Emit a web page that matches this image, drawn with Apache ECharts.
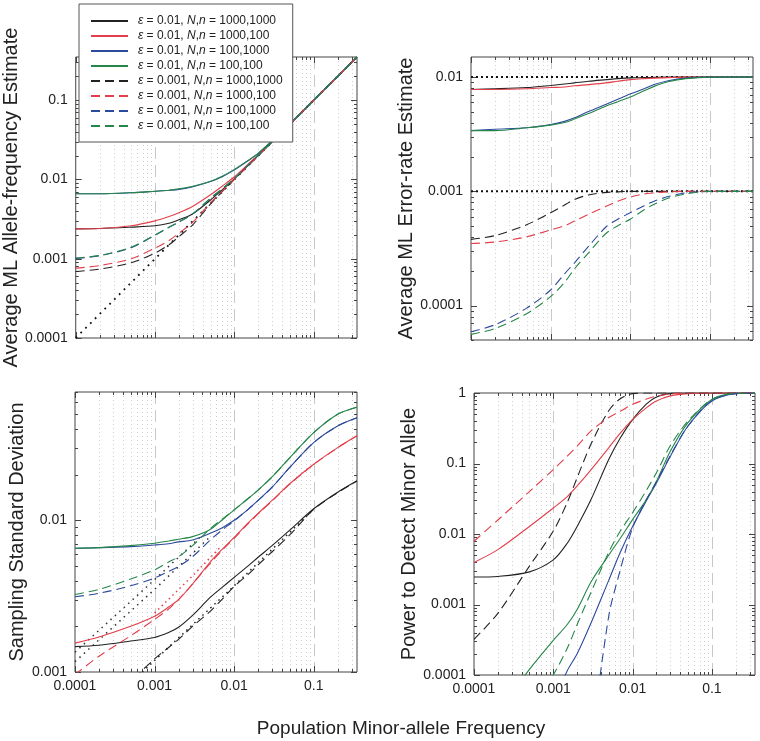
<!DOCTYPE html>
<html>
<head>
<meta charset="utf-8">
<script src="https://cdn.jsdelivr.net/npm/echarts@6/dist/echarts.min.js"></script>
<style>
html,body{margin:0;padding:0;background:#fff;}
#chart{width:760px;height:741px;}
</style>
</head>
<body>
<div id="chart"></div>
<script>
// ---------- DATA ----------
const X = [0.0001, 0.0002, 0.0005, 0.001, 0.0015, 0.002, 0.003, 0.005, 0.007, 0.01, 0.015, 0.02, 0.03, 0.05, 0.1, 0.2, 0.35];

const epsLabels = ['0.01', '0.01', '0.01', '0.01', '0.001', '0.001', '0.001', '0.001'];
const nnLabels = ['1000,1000', '1000,100', '100,1000', '100,100', '1000,1000', '1000,100', '100,1000', '100,100'];

const xTickLabels = ['0.0001', '0.001', '0.01', '0.1'];
const tlTickLabels = ['0.0001', '0.001', '0.01', '0.1'];
const trTickLabels = ['0.0001', '0.001', '0.01'];
const blTickLabels = ['0.001', '0.01'];
const brTickLabels = ['0.0001', '0.001', '0.01', '0.1', '1'];

const yTitles = ['Average ML Allele-frequency Estimate', 'Average ML Error-rate Estimate', 'Sampling Standard Deviation', 'Power to Detect Minor Allele'];
const xTitle = 'Population Minor-allele Frequency';

// Top-left: Average ML allele-frequency estimate
const tlS_black = [0.00238, 0.0024, 0.0025, 0.0026, 0.0028, 0.0031, 0.0037, 0.0055, 0.0074, 0.0102, 0.0152, 0.0201, 0.030, 0.050, 0.10, 0.20, 0.35];
const tlS_red   = [0.00238, 0.0024, 0.0026, 0.0030, 0.0034, 0.0038, 0.0046, 0.0064, 0.0082, 0.0108, 0.0157, 0.0205, 0.0302, 0.050, 0.10, 0.20, 0.35];
const tlS_blue  = [0.0066, 0.0066, 0.0068, 0.0071, 0.0073, 0.0075, 0.0081, 0.0094, 0.0108, 0.0132, 0.0173, 0.0213, 0.0308, 0.050, 0.10, 0.20, 0.35];
const tlS_green = [0.0066, 0.0066, 0.0068, 0.0071, 0.0073, 0.0076, 0.0082, 0.0095, 0.0110, 0.0134, 0.0175, 0.0215, 0.0310, 0.050, 0.10, 0.20, 0.35];
const tlD_black = [0.00069, 0.00074, 0.00089, 0.00118, 0.0015, 0.0019, 0.0027, 0.0049, 0.0070, 0.0100, 0.0150, 0.0200, 0.030, 0.050, 0.10, 0.20, 0.35];
const tlD_red   = [0.00076, 0.00082, 0.0010, 0.00136, 0.0017, 0.0021, 0.0029, 0.0051, 0.0071, 0.0101, 0.0150, 0.0200, 0.030, 0.050, 0.10, 0.20, 0.35];
const tlD_blue  = [0.00101, 0.00109, 0.00138, 0.00198, 0.0025, 0.0029, 0.0037, 0.0058, 0.0076, 0.0103, 0.0153, 0.0202, 0.030, 0.050, 0.10, 0.20, 0.35];
const tlD_green = [0.00102, 0.0011, 0.0014, 0.0020, 0.0025, 0.0029, 0.0037, 0.0058, 0.0076, 0.0103, 0.0153, 0.0202, 0.030, 0.050, 0.10, 0.20, 0.35];
const tlRefX = [0.0001, 0.35];
const tlRefY = [0.0001, 0.35];

// Top-right: Average ML error-rate estimate
const trS_black = [0.0078, 0.0079, 0.0081, 0.00845, 0.0087, 0.0089, 0.0092, 0.0095, 0.0097, 0.00985, 0.0099, 0.00995, 0.0100, 0.0100, 0.0100, 0.0100, 0.0100];
const trS_red   = [0.0078, 0.0078, 0.0079, 0.0081, 0.0082, 0.0084, 0.0086, 0.0089, 0.0092, 0.0095, 0.0097, 0.0098, 0.0099, 0.0100, 0.0100, 0.0100, 0.0100];
const trS_blue  = [0.0034, 0.0035, 0.0036, 0.00385, 0.0041, 0.0044, 0.0050, 0.0058, 0.0064, 0.0071, 0.0079, 0.0086, 0.0093, 0.0098, 0.0100, 0.0100, 0.0100];
const trS_green = [0.0034, 0.0034, 0.0036, 0.0038, 0.0040, 0.0043, 0.0048, 0.0056, 0.0061, 0.0067, 0.0076, 0.0083, 0.0091, 0.0097, 0.0100, 0.0100, 0.0100];
const trD_black = [0.00038, 0.00041, 0.00051, 0.00065, 0.00076, 0.00085, 0.00093, 0.00098, 0.00099, 0.0010, 0.0010, 0.0010, 0.0010, 0.0010, 0.0010, 0.0010, 0.0010];
const trD_red   = [0.00035, 0.00036, 0.00040, 0.00046, 0.00050, 0.00055, 0.00063, 0.00074, 0.00082, 0.00089, 0.00095, 0.00097, 0.00099, 0.0010, 0.0010, 0.0010, 0.0010];
const trD_blue  = [0.000059, 0.000068, 0.000095, 0.000137, 0.00019, 0.000237, 0.00033, 0.00049, 0.00057, 0.00065, 0.00075, 0.00082, 0.00090, 0.00097, 0.0010, 0.0010, 0.0010];
const trD_green = [0.000056, 0.000063, 0.000085, 0.00012, 0.00016, 0.00021, 0.00029, 0.00043, 0.00050, 0.00057, 0.00069, 0.00077, 0.00087, 0.00095, 0.0010, 0.0010, 0.0010];
const trRefLevels = [0.01, 0.001];

// Bottom-left: Sampling standard deviation
const blS_black = [0.00147, 0.0015, 0.0016, 0.00169, 0.00182, 0.00197, 0.00236, 0.0031, 0.0036, 0.0042, 0.0050, 0.0057, 0.0068, 0.0086, 0.0119, 0.0153, 0.0182];
const blS_red   = [0.00155, 0.0017, 0.0020, 0.00233, 0.00268, 0.0030, 0.0038, 0.0053, 0.0064, 0.0077, 0.0096, 0.0111, 0.0135, 0.0174, 0.0234, 0.0301, 0.0360];
const blS_blue  = [0.00653, 0.0066, 0.0067, 0.00687, 0.0070, 0.0072, 0.0074, 0.0082, 0.0089, 0.0100, 0.0118, 0.0135, 0.0165, 0.0223, 0.0325, 0.0418, 0.0473];
const blS_green = [0.00653, 0.0066, 0.0068, 0.00705, 0.0073, 0.0075, 0.0078, 0.0087, 0.0100, 0.0117, 0.0139, 0.0158, 0.0193, 0.0258, 0.0378, 0.0500, 0.0556];
const blD_black = [0.00028, 0.0004, 0.00085, 0.00122, 0.00145, 0.00164, 0.0020, 0.00251, 0.0030, 0.00366, 0.0044, 0.00508, 0.0062, 0.0080, 0.0118, 0.0152, 0.0181];
const blD_red   = [0.00096, 0.00127, 0.00173, 0.00222, 0.0026, 0.0030, 0.0038, 0.0052, 0.0063, 0.0076, 0.0095, 0.0110, 0.0134, 0.0173, 0.0233, 0.0300, 0.0360];
const blD_blue  = [0.00313, 0.0033, 0.0037, 0.00416, 0.0046, 0.00496, 0.00575, 0.0074, 0.0086, 0.0099, 0.0118, 0.0135, 0.0165, 0.0223, 0.0325, 0.0418, 0.0473];
const blD_green = [0.00324, 0.0035, 0.0041, 0.00471, 0.0053, 0.00575, 0.0068, 0.0088, 0.0101, 0.0117, 0.0139, 0.0158, 0.0193, 0.0258, 0.0378, 0.0500, 0.0556];
const blDotA_X = [0.0001, 0.001, 0.004];
const blDotA_Y = [0.00135, 0.00406, 0.0080];
const blDotB_X = [0.0001, 0.001, 0.005];
const blDotB_Y = [0.00117, 0.0035, 0.0078];
const blDotRed_X = [0.001, 0.003, 0.007];
const blDotRed_Y = [0.00245, 0.0043, 0.0068];
const blDotBlack_X = [0.0007, 0.01, 0.1];
const blDotBlack_Y = [0.0010, 0.0037, 0.0118];

// Bottom-right: Power to detect minor allele
const brS_black = [0.00245, 0.0025, 0.0029, 0.0043, 0.0074, 0.0128, 0.031, 0.114, 0.23, 0.42, 0.70, 0.88, 0.98, 1, 1, 1, 1];
const brS_red   = [0.00395, 0.0060, 0.0128, 0.0234, 0.034, 0.048, 0.082, 0.167, 0.27, 0.42, 0.62, 0.77, 0.91, 0.98, 1, 1, 1];
const brS_blue  = [null, null, 0.000008, 0.00004, 0.000115, 0.00020, 0.00055, 0.0022, 0.0055, 0.0128, 0.030, 0.053, 0.127, 0.34, 0.77, 0.98, 1];
const brS_green = [0.000015, 0.00003, 0.00012, 0.00031, 0.00052, 0.00085, 0.0021, 0.0050, 0.0087, 0.016, 0.031, 0.056, 0.15, 0.38, 0.81, 0.99, 1];
const brD_black = [0.00032, 0.00075, 0.0035, 0.011, 0.028, 0.063, 0.19, 0.56, 0.83, 0.98, 1, 1, 1, 1, 1, 1, 1];
const brD_red   = [0.0079, 0.0158, 0.040, 0.082, 0.127, 0.176, 0.29, 0.45, 0.55, 0.69, 0.82, 0.90, 0.97, 1, 1, 1, 1];
const brD_blue  = [null, null, null, null, null, null, 0.00001, 0.00068, 0.0031, 0.0122, 0.031, 0.055, 0.13, 0.34, 0.78, 0.98, 1];
const brD_green = [null, null, 0.00003, 0.0001, 0.00024, 0.00052, 0.0015, 0.0055, 0.011, 0.020, 0.042, 0.074, 0.18, 0.40, 0.81, 0.99, 1];

// ---------- STYLE / LAYOUT ----------
const FONT = '"Liberation Sans", Arial, sans-serif';
const COLORS = ['#222222', '#e23f4a', '#2c4a9c', '#25864a'];
const DASH = [9, 5];
const grids = [
  {left: 75, top: 57, width: 282, height: 281},
  {left: 471, top: 57, width: 282, height: 283},
  {left: 75, top: 392, width: 282, height: 280},
  {left: 474, top: 393, width: 281, height: 282}
];
const xRange = [0.0001, 0.35];
const yRanges = [[0.0001, 0.35], [0.00005, 0.015], [0.001, 0.07], [0.0001, 1]];
const yLabelSets = [tlTickLabels, trTickLabels, blTickLabels, brTickLabels];
const nameGaps = [48, 43, 48, 46];

const panelData = [
  [tlS_black, tlS_red, tlS_blue, tlS_green, tlD_black, tlD_red, tlD_blue, tlD_green],
  [trS_black, trS_red, trS_blue, trS_green, trD_black, trD_red, trD_blue, trD_green],
  [blS_black, blS_red, blS_blue, blS_green, blD_black, blD_red, blD_blue, blD_green],
  [brS_black, brS_red, brS_blue, brS_green, brD_black, brD_red, brD_blue, brD_green]
];

const seriesNames = epsLabels.map((e, i) => '\u03b5 = ' + e + ', N,n = ' + nnLabels[i]);

function labelFormatter(labels) {
  return function (v) {
    const s = labels.find(l => Math.abs(Math.log10(+l) - Math.log10(v)) < 1e-6);
    return s || '';
  };
}

function tickValues(min, max) {
  const out = [];
  for (let k = -6; k <= 1; k++) {
    for (let m = 1; m <= 9; m++) {
      const v = m * Math.pow(10, k);
      if (v >= min * 0.9999 && v <= max * 1.0001) out.push([v, m === 1 ? 1 : 0]);
    }
  }
  return out;
}

function xGridRender(params, api) {
  const cs = params.coordSys;
  let x = api.coord([api.value(0), api.value(1)])[0];
  x = Math.round(x) + 0.5;
  const major = api.value(2) === 1;
  const len = major ? 6 : 3;
  const top = cs.y, bot = cs.y + cs.height;
  const children = [];
  if (x > cs.x + 1.5 && x < cs.x + cs.width - 1.5) {
    children.push({type: 'line', shape: {x1: x, y1: top, x2: x, y2: bot},
      style: {stroke: major ? '#c8c8c8' : '#cfcfcf', lineWidth: 1, lineDash: major ? [12, 6] : [1, 3]}});
  }
  children.push({type: 'line', shape: {x1: x, y1: bot, x2: x, y2: bot - len}, style: {stroke: '#444', lineWidth: 1}});
  children.push({type: 'line', shape: {x1: x, y1: top, x2: x, y2: top + len}, style: {stroke: '#444', lineWidth: 1}});
  return {type: 'group', children};
}

function yTickRender(params, api) {
  const cs = params.coordSys;
  let y = api.coord([api.value(0), api.value(1)])[1];
  y = Math.round(y) + 0.5;
  const major = api.value(2) === 1;
  const len = major ? 6 : 3;
  const l = cs.x, r = cs.x + cs.width;
  return {type: 'group', children: [
    {type: 'line', shape: {x1: l, y1: y, x2: l + len, y2: y}, style: {stroke: '#444', lineWidth: 1}},
    {type: 'line', shape: {x1: r, y1: y, x2: r - len, y2: y}, style: {stroke: '#444', lineWidth: 1}}
  ]};
}

const xAxes = [], yAxes = [], series = [];
grids.forEach((g, gi) => {
  const bottomRow = gi >= 2;
  xAxes.push({
    type: 'log', logBase: 10, gridIndex: gi, min: xRange[0], max: xRange[1],
    axisLine: {show: false}, axisTick: {show: false}, splitLine: {show: false},
    axisLabel: {show: bottomRow, formatter: labelFormatter(xTickLabels), fontSize: 14, color: '#222', fontFamily: FONT, margin: 7}
  });
  yAxes.push({
    type: 'log', logBase: 10, gridIndex: gi, min: yRanges[gi][0], max: yRanges[gi][1],
    axisLine: {show: false}, axisTick: {show: false}, splitLine: {show: false},
    axisLabel: {formatter: labelFormatter(yLabelSets[gi]), fontSize: 14, color: '#222', fontFamily: FONT, margin: 8},
    name: yTitles[gi], nameLocation: 'middle', nameRotate: 90, nameGap: nameGaps[gi],
    nameTextStyle: {fontSize: 20, color: '#222', fontFamily: FONT}
  });
  series.push({
    type: 'custom', xAxisIndex: gi, yAxisIndex: gi, silent: true, z: 1,
    renderItem: xGridRender, animation: false,
    data: tickValues(xRange[0], xRange[1]).map(t => [t[0], yRanges[gi][0], t[1]])
  });
  series.push({
    type: 'custom', xAxisIndex: gi, yAxisIndex: gi, silent: true, z: 1,
    renderItem: yTickRender, animation: false,
    data: tickValues(yRanges[gi][0], yRanges[gi][1]).map(t => [xRange[0], t[0], t[1]])
  });
});

function dottedSeries(gi, xs, ys, color, width, dash) {
  return {
    type: 'line', xAxisIndex: gi, yAxisIndex: gi, silent: true, z: 3,
    data: xs.map((x, i) => [x, ys[i]]), showSymbol: false, symbol: 'none', clip: true,
    lineStyle: {color: color, width: width, type: dash}, animation: false
  };
}

series.push(dottedSeries(0, tlRefX, tlRefY, '#111', 1.8, [1.8, 5]));
trRefLevels.forEach(lv => series.push(dottedSeries(1, xRange, [lv, lv], '#111', 2, [2, 3])));
series.push(dottedSeries(2, blDotA_X, blDotA_Y, '#333', 1.5, [1.5, 4.5]));
series.push(dottedSeries(2, blDotB_X, blDotB_Y, '#333', 1.5, [1.5, 4.5]));
series.push(dottedSeries(2, blDotRed_X, blDotRed_Y, '#e23f4a', 1.5, [1.5, 3.5]));
series.push(dottedSeries(2, blDotBlack_X, blDotBlack_Y, '#222', 1.5, [1.5, 4]));

panelData.forEach((arrs, gi) => {
  arrs.forEach((ys, si) => {
    const color = COLORS[si % 4];
    const dashed = si >= 4;
    series.push({
      type: 'line', name: seriesNames[si], xAxisIndex: gi, yAxisIndex: gi, z: 4,
      data: X.map((x, i) => [x, ys[i] == null ? null : ys[i]]),
      showSymbol: false, symbol: 'none', smooth: 0.3, clip: true,
      lineStyle: {color: color, width: 1.1, type: dashed ? DASH : 'solid'},
      itemStyle: {color: color}, animation: false
    });
  });
});

const chart = echarts.init(document.getElementById('chart'), null, {renderer: 'canvas'});
chart.setOption({
  backgroundColor: '#fff',
  animation: false,
  textStyle: {fontFamily: FONT},
  title: {
    text: xTitle, left: 401, top: 719, textAlign: 'center', padding: 0,
    textStyle: {fontSize: 19, fontWeight: 'normal', color: '#222', fontFamily: FONT}
  },
  grid: grids.map(g => Object.assign({show: true, borderColor: '#444', borderWidth: 1, backgroundColor: 'transparent'}, g)),
  xAxis: xAxes,
  yAxis: yAxes,
  legend: {
    data: seriesNames, orient: 'vertical', left: 79, top: 4, selectedMode: false,
    padding: [10, 10, 9, 11], itemGap: 1, itemWidth: 37, itemHeight: 10,
    backgroundColor: '#fff', borderColor: '#555', borderWidth: 1, z: 10,
    itemStyle: {opacity: 0, borderWidth: 0},
    formatter: function (name) {
      const i = seriesNames.indexOf(name);
      return '{i|\u03b5} = ' + epsLabels[i] + ', {i|N},{i|n} = ' + nnLabels[i];
    },
    textStyle: {fontSize: 12, color: '#222', fontFamily: FONT, lineHeight: 14, padding: [0, 0, 0, 5],
      rich: {i: {fontStyle: 'italic', fontSize: 12, fontFamily: FONT, color: '#222', lineHeight: 14}}}
  },
  series: series
});
</script>
</body>
</html>
